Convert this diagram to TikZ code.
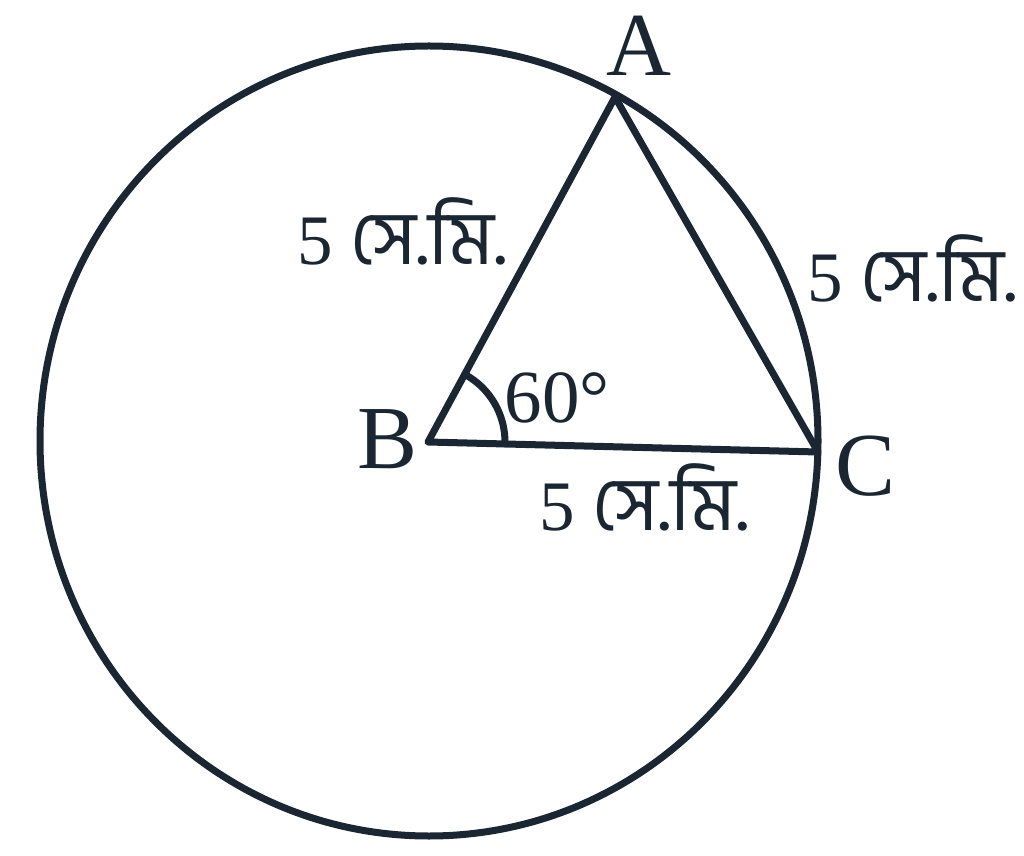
\documentclass[tikz,border=0pt]{standalone}
\usepackage{fontspec}
\usetikzlibrary{calc}
\setmainfont{Liberation Serif}
\newfontfamily\bn[Script=Bengali]{Hind Siliguri}
\definecolor{ink}{RGB}{27,38,51}
\newcommand{\bnunit}{{\fontsize{76}{76}\bn সে.মি.}}
\begin{document}
\begin{tikzpicture}[x=1pt,y=1pt,
  stroke/.style={draw=ink,line width=7pt,line join=round,line cap=round},
  vlabel/.style={text=ink,inner sep=0pt,anchor=base,font=\fontsize{90}{90}\selectfont},
  anglabel/.style={text=ink,inner sep=0pt,anchor=base,font=\fontsize{75}{75}\selectfont},
  lenlabel/.style={text=ink,inner sep=0pt,anchor=base,font=\fontsize{71}{71}\selectfont}]
\useasboundingbox[fill=white] (0,0) rectangle (1024,855);
\coordinate (O) at (429,414);
\coordinate (A) at (615,758);
\coordinate (B) at (428,413);
\coordinate (C) at (818,403);
\draw[stroke] (O) ellipse [x radius=389, y radius=395];
\draw[stroke] (A) -- (B) -- (C) -- cycle;
\draw[stroke] ($(B)+(-1.47:77)$) arc[start angle=-1.47, end angle=61.5, radius=77];
\node[vlabel] (lA) at (639,779) {A};
\node[vlabel] (lB) at (388,387) {B};
\node[vlabel] (lC) at (866,360) {C};
\node[anglabel] (ang) at (557,433) {60°};
\node[lenlabel] (sAB) at (402,590) {5 \bnunit};
\node[lenlabel] (sAC) at (912,553) {5 \bnunit};
\node[lenlabel] (sBC) at (644,325) {5 \bnunit};
\end{tikzpicture}
\end{document}
